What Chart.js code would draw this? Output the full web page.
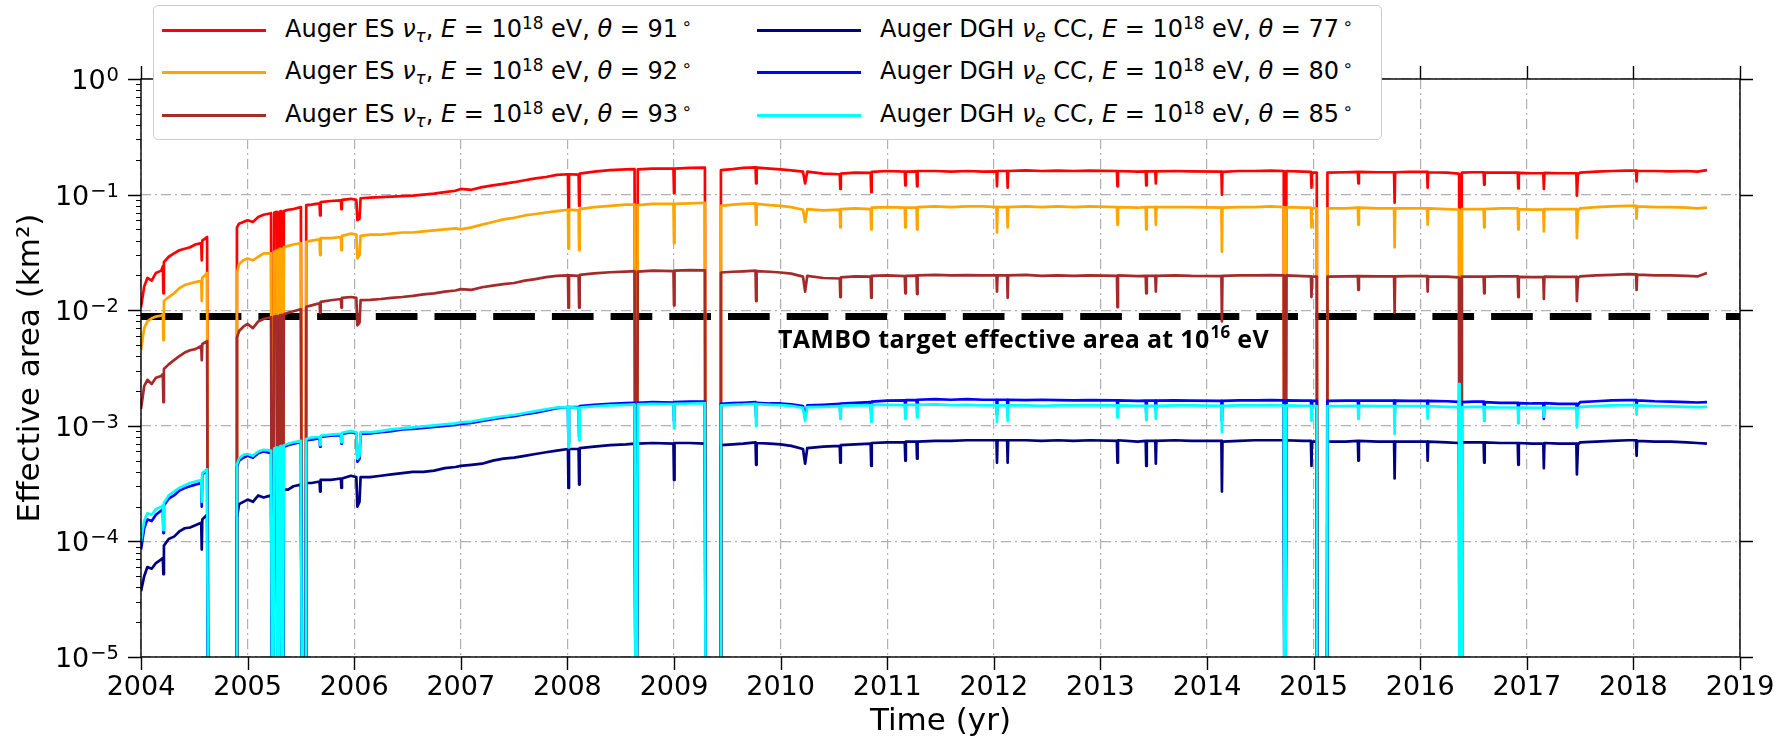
<!DOCTYPE html>
<html>
<head>
<meta charset="utf-8">
<script src="https://cdn.jsdelivr.net/npm/chart.js@4.4.1/dist/chart.umd.min.js"></script>
<style>
  html, body { margin: 0; padding: 0; background: #fff; }
  #wrap { position: relative; width: 1791px; height: 741px; overflow: hidden; }
  #chart { position: absolute; left: 0; top: 0; }
  #legendBox { position: absolute; left: 153px; top: 5px; width: 1227px; height: 133px;
    border: 1px solid #cccccc; border-radius: 5px; background: #fff; }
  .swatch { position: absolute; width: 104px; height: 3px; }
  .lbl { position: absolute; height: 40px; line-height: 40px; white-space: nowrap;
    font-family: 'DejaVu Sans'; font-size: 24px; color: #000; }
  .lbl sup, .lbl sub { font-size: 70%; line-height: 0; position: relative; vertical-align: baseline; }
  .lbl sup { top: -0.5em; }
  .lbl sub { top: 0.3em; }
</style>
</head>
<body>
<div id="wrap">
  <canvas id="chart" width="1791" height="741"></canvas>
  <div id="legendBox"></div>
</div>
<script>
// time axis (yr) shared by all six series
const years = [
  2004.00, 2004.03, 2004.06, 2004.10, 2004.14, 2004.19, 2004.205, 2004.21, 2004.215, 2004.26,
  2004.31, 2004.36, 2004.41, 2004.46, 2004.51, 2004.565, 2004.57, 2004.575, 2004.62, 2004.635,
  2004.895, 2004.90, 2004.92, 2004.96, 2005.00, 2005.05, 2005.10, 2005.15, 2005.22, 2005.235,
  2005.25, 2005.275, 2005.285, 2005.30, 2005.315, 2005.325, 2005.34, 2005.38, 2005.43, 2005.50,
  2005.515, 2005.545, 2005.55, 2005.60, 2005.675, 2005.68, 2005.685, 2005.78, 2005.875, 2005.88,
  2005.885, 2005.97, 2006.02, 2006.03, 2006.05, 2006.06, 2006.15, 2006.25, 2006.35, 2006.45,
  2006.55, 2006.65, 2006.75, 2006.85, 2006.95, 2007.00, 2007.10, 2007.20, 2007.30, 2007.40,
  2007.50, 2007.60, 2007.70, 2007.80, 2007.90, 2008.005, 2008.01, 2008.015, 2008.105, 2008.11,
  2008.115, 2008.25, 2008.40, 2008.55, 2008.63, 2008.645, 2008.66, 2008.80, 2008.995, 2009.00,
  2009.005, 2009.15, 2009.29, 2009.30, 2009.435, 2009.44, 2009.55, 2009.65, 2009.765, 2009.77,
  2009.775, 2009.90, 2010.00, 2010.10, 2010.21, 2010.23, 2010.25, 2010.40, 2010.555, 2010.56,
  2010.565, 2010.70, 2010.845, 2010.85, 2010.855, 2011.00, 2011.165, 2011.17, 2011.175, 2011.275,
  2011.28, 2011.285, 2011.45, 2011.60, 2011.75, 2011.90, 2012.025, 2012.03, 2012.035, 2012.125,
  2012.13, 2012.135, 2012.30, 2012.45, 2012.60, 2012.75, 2012.90, 2013.155, 2013.16, 2013.165,
  2013.35, 2013.425, 2013.43, 2013.435, 2013.515, 2013.52, 2013.525, 2013.70, 2013.85, 2014.135,
  2014.14, 2014.145, 2014.30, 2014.45, 2014.60, 2014.72, 2014.73, 2014.745, 2014.90, 2014.975,
  2014.98, 2014.985, 2015.03, 2015.035, 2015.125, 2015.13, 2015.30, 2015.415, 2015.42, 2015.425,
  2015.60, 2015.755, 2015.76, 2015.765, 2015.90, 2016.065, 2016.07, 2016.075, 2016.25, 2016.36, 2016.365,
  2016.37, 2016.385, 2016.39, 2016.50, 2016.595, 2016.60, 2016.605, 2016.75, 2016.915, 2016.92,
  2016.925, 2017.05, 2017.155, 2017.16, 2017.165, 2017.30, 2017.465, 2017.47, 2017.48, 2017.50,
  2017.65, 2017.80, 2017.95, 2018.025, 2018.03, 2018.035, 2018.20, 2018.35, 2018.50, 2018.60,
  2018.69
];

// effective area (km^2); 1e-7 marks detector outages (falls off the bottom of the plot)
const es91 = [
  .0106, .016, .019, .018, .021, .022, .024, .014, .026, .029,
  .031, .033, .034, .035, .037, .038, .027, .040, .043, 1e-7,
  1e-7, .052, .056, .058, .060, .058, .064, .067, .069, 1e-7,
  .070, .071, 1e-7, .071, .072, 1e-7, .072, .074, .075, .078,
  1e-7, 1e-7, .081, .082, .084, .066, .086, .088, .089, .075,
  .090, .092, .090, .060, .062, .093, .094, .095, .096, .097,
  .098, .100, .102, .105, .108, .112, .110, .116, .120, .124,
  .128, .133, .138, .142, .148, .150, .074, .150, .149, .080,
  .152, .158, .163, .165, .166, 1e-7, .165, .168, .168, .103,
  .168, .170, .171, 1e-7, 1e-7, .163, .166, .170, .172, .125,
  .171, .168, .165, .162, .158, .125, .158, .152, .150, .112,
  .152, .155, .154, .105, .157, .160, .158, .120, .158, .159,
  .118, .160, .160, .158, .160, .158, .159, .118, .160, .160,
  .115, .160, .162, .160, .161, .160, .161, .160, .118, .160,
  .158, .159, .120, .159, .159, .125, .159, .160, .159, .158,
  .100, .157, .160, .160, .161, .160, 1e-7, .160, .158, .157,
  .115, .155, .155, 1e-7, 1e-7, .155, .156, .157, .125, .157,
  .156, .156, .085, .156, .157, .157, .115, .156, .155, .152, .150,
  1e-7, 1e-7, .155, .156, .156, .122, .155, .155, .155, .113,
  .154, .153, .153, .112, .154, .153, .153, .098, .150, .155,
  .158, .160, .161, .161, .130, .160, .160, .159, .160, .158,
  .163
];
const es92 = [
  .0045, .0070, .0080, .0085, .0088, .0090, .0092, .0055, .0120, .0130,
  .0140, .0155, .0165, .0170, .0175, .0180, .0120, .0190, .0210, 1e-7,
  1e-7, .021, .025, .027, .028, .027, .029, .031, .031, 1e-7,
  .032, .033, 1e-7, .034, .034, 1e-7, .035, .036, .037, .038,
  1e-7, 1e-7, .039, .040, .041, .030, .042, .042, .043, .033,
  .044, .046, .045, .028, .030, .044, .045, .045, .046, .047,
  .047, .048, .049, .050, .051, .050, .052, .055, .058, .061,
  .063, .066, .068, .070, .072, .074, .034, .074, .073, .033,
  .075, .078, .080, .082, .082, 1e-7, .081, .083, .083, .038,
  .083, .084, .085, 1e-7, 1e-7, .080, .082, .083, .084, .055,
  .083, .081, .080, .078, .074, .058, .075, .073, .074, .052,
  .075, .076, .075, .050, .077, .078, .077, .052, .077, .077,
  .050, .078, .079, .078, .079, .079, .078, .047, .078, .078,
  .052, .078, .079, .078, .079, .078, .079, .078, .055, .078,
  .077, .078, .050, .078, .078, .055, .078, .078, .078, .077,
  .032, .077, .078, .078, .079, .078, 1e-7, .078, .077, .077,
  .052, .076, .076, 1e-7, 1e-7, .076, .076, .077, .055, .077,
  .076, .076, .035, .076, .076, .076, .055, .076, .075, .074, .072,
  1e-7, 1e-7, .075, .075, .075, .052, .075, .076, .076, .050,
  .075, .074, .074, .048, .075, .075, .075, .042, .072, .076,
  .078, .079, .080, .080, .062, .079, .078, .078, .077, .076,
  .077
];
const es93 = [
  .0014, .0022, .0025, .0023, .0026, .0027, .0028, .0016, .0031, .0034,
  .0037, .0040, .0043, .0045, .0046, .0049, .0037, .0051, .0054, 1e-7,
  1e-7, .0058, .0066, .0072, .0076, .0070, .0080, .0084, .0087, 1e-7,
  .0088, .0089, 1e-7, .0090, .0091, 1e-7, .0092, .0095, .0098, .0102,
  1e-7, 1e-7, .0107, .0110, .0115, .0095, .0118, .0122, .0125, .0105,
  .0128, .0130, .0128, .0074, .0078, .0122, .0123, .0125, .0128, .0130,
  .0133, .0137, .0140, .0145, .0148, .0152, .0150, .0158, .0163, .0168,
  .0172, .0180, .0186, .0193, .0198, .0200, .0105, .0200, .0198, .0105,
  .0202, .0208, .0213, .0216, .0218, 1e-7, .0216, .0220, .0218, .0110,
  .0220, .0222, .0221, 1e-7, 1e-7, .0212, .0215, .0217, .0220, .0120,
  .0218, .0215, .0212, .0207, .0195, .0145, .0198, .0190, .0188, .0130,
  .0192, .0196, .0195, .0128, .0198, .0200, .0197, .0140, .0198, .0199,
  .0138, .0200, .0202, .0200, .0201, .0200, .0200, .0145, .0200, .0200,
  .0128, .0200, .0202, .0198, .0200, .0198, .0200, .0198, .0106, .0200,
  .0197, .0198, .0140, .0198, .0198, .0145, .0198, .0200, .0198, .0197,
  .0080, .0198, .0200, .0200, .0201, .0200, 1e-7, .0200, .0197, .0196,
  .0130, .0195, .0195, 1e-7, 1e-7, .0195, .0196, .0197, .0150, .0197,
  .0196, .0196, .0095, .0196, .0197, .0197, .0145, .0196, .0195, .0192, .0188,
  1e-7, 1e-7, .0195, .0195, .0195, .0140, .0195, .0196, .0196, .0130,
  .0194, .0193, .0193, .0125, .0195, .0194, .0194, .0120, .0190, .0196,
  .0200, .0202, .0205, .0204, .0150, .0203, .0200, .0200, .0198, .0196,
  .0210
];
const dgh77 = [
  .000037, .000050, .000060, .000058, .000065, .000070, .000072, .000052, .000092, .000105,
  .000110, .000122, .000130, .000132, .000138, .000145, .000085, .000155, .000170, 1e-7,
  1e-7, .00016, .00021, .00022, .00023, .00022, .00025, .00024, .00025, 1e-7,
  .00026, .00027, 1e-7, .00027, .00027, 1e-7, .00028, .00028, .00030, .00031,
  1e-7, 1e-7, .00032, .00032, .00033, .00027, .00034, .00034, .00035, .00029,
  .00035, .00037, .00036, .00020, .00022, .00036, .00036, .00037, .00038, .00039,
  .00040, .00040, .00041, .00043, .00044, .00045, .00046, .00047, .00050, .00052,
  .00053, .00055, .00057, .00059, .00061, .00063, .00029, .00063, .00063, .00031,
  .00064, .00066, .00068, .00069, .00070, 1e-7, .00070, .00071, .00070, .00034,
  .00071, .00071, .00070, 1e-7, 1e-7, .00068, .00069, .00070, .00072, .00046,
  .00071, .00070, .00069, .00067, .00063, .00047, .00064, .00066, .00067, .00048,
  .00068, .00069, .00070, .00045, .00071, .00072, .00072, .00050, .00073, .00073,
  .00052, .00073, .00074, .00074, .00075, .00075, .00075, .00048, .00075, .00075,
  .00048, .00075, .00075, .00074, .00075, .00074, .00075, .00074, .00048, .00075,
  .00073, .00074, .00045, .00074, .00074, .00047, .00074, .00075, .00074, .00074,
  .00027, .00073, .00074, .00075, .00075, .00075, 1e-7, .00075, .00074, .00074,
  .00045, .00073, .00073, 1e-7, 1e-7, .00073, .00073, .00074, .00050, .00074,
  .00073, .00073, .00035, .00073, .00073, .00073, .00050, .00073, .00072, .00071, .00070,
  1e-7, 1e-7, .00072, .00072, .00072, .00048, .00072, .00071, .00071, .00046,
  .00071, .00070, .00070, .00043, .00071, .00070, .00070, .00038, .00069, .00072,
  .00073, .00074, .00075, .00075, .00055, .00074, .00073, .00073, .00072, .00071,
  .00070
];
const dgh80 = [
  .000085, .000130, .000155, .000150, .000170, .000185, .000190, .000118, .000205, .000235,
  .000250, .000275, .000290, .000300, .000310, .000320, .000200, .000380, .000410, 1e-7,
  1e-7, .00044, .00050, .00053, .00055, .00053, .00058, .00060, .00058, 1e-7,
  .00062, .00064, 1e-7, .00065, .00065, 1e-7, .00066, .00068, .00070, .00072,
  1e-7, 1e-7, .00075, .00076, .00078, .00066, .00080, .00082, .00083, .00070,
  .00085, .00088, .00086, .00049, .00052, .00085, .00086, .00088, .00090, .00093,
  .00094, .00096, .00098, .00100, .00102, .00104, .00106, .00110, .00114, .00118,
  .00121, .00126, .00130, .00136, .00142, .00145, .00070, .00145, .00146, .00080,
  .00148, .00152, .00155, .00157, .00158, 1e-7, .00158, .00160, .00159, .00110,
  .00160, .00162, .00162, 1e-7, 1e-7, .00155, .00157, .00158, .00160, .00120,
  .00158, .00156, .00156, .00153, .00148, .00118, .00150, .00152, .00155, .00130,
  .00156, .00158, .00160, .00130, .00162, .00165, .00166, .00140, .00167, .00167,
  .00142, .00168, .00170, .00168, .00170, .00168, .00168, .00125, .00168, .00168,
  .00125, .00168, .00167, .00168, .00167, .00166, .00167, .00166, .00140, .00166,
  .00164, .00165, .00130, .00165, .00165, .00135, .00165, .00166, .00165, .00164,
  .00110, .00164, .00166, .00166, .00167, .00166, 1e-7, .00166, .00165, .00165,
  .00130, .00164, .00164, 1e-7, 1e-7, .00164, .00165, .00165, .00140, .00165,
  .00165, .00165, .00115, .00165, .00164, .00164, .00140, .00164, .00163, .00161, .00160,
  1e-7, 1e-7, .00160, .00162, .00162, .00135, .00160, .00158, .00158, .00135,
  .00157, .00156, .00156, .00115, .00157, .00155, .00155, .00135, .00152, .00160,
  .00163, .00166, .00167, .00167, .00150, .00166, .00163, .00162, .00160, .00159,
  .00160
];
const dgh85 = [
  .000100, .000150, .000175, .000170, .000190, .000200, .000205, .000125, .000215, .000250,
  .000270, .000290, .000305, .000320, .000330, .000340, .000220, .000390, .000420, 1e-7,
  1e-7, .00046, .00052, .00056, .00057, .00055, .00060, .00062, .00061, 1e-7,
  .00064, .00065, 1e-7, .00066, .00067, 1e-7, .00068, .00070, .00072, .00074,
  1e-7, 1e-7, .00077, .00079, .00080, .00068, .00082, .00084, .00085, .00072,
  .00087, .00090, .00088, .00052, .00055, .00088, .00088, .00090, .00093, .00095,
  .00097, .00099, .00101, .00103, .00105, .00107, .00109, .00113, .00117, .00121,
  .00124, .00129, .00134, .00139, .00144, .00145, .00065, .00145, .00143, .00075,
  .00144, .00147, .00150, .00152, .00153, 1e-7, .00153, .00155, .00154, .00095,
  .00155, .00156, .00157, 1e-7, 1e-7, .00150, .00152, .00153, .00155, .00100,
  .00154, .00152, .00151, .00149, .00143, .00110, .00145, .00146, .00148, .00115,
  .00149, .00150, .00150, .00108, .00152, .00152, .00151, .00115, .00152, .00152,
  .00118, .00152, .00153, .00151, .00152, .00150, .00150, .00108, .00150, .00150,
  .00110, .00150, .00150, .00149, .00150, .00150, .00150, .00150, .00118, .00150,
  .00149, .00149, .00112, .00149, .00149, .00115, .00149, .00150, .00150, .00149,
  .00088, .00149, .00150, .00150, .00151, .00150, 1e-7, .00150, .00149, .00149,
  .00110, .00148, .00148, 1e-7, 1e-7, .00148, .00148, .00149, .00115, .00149,
  .00148, .00148, .00085, .00148, .00148, .00148, .00115, .00148, .00146, .00145, .00230,
  1e-7, 1e-7, .00145, .00146, .00146, .00110, .00145, .00144, .00144, .00105,
  .00144, .00143, .00143, .00120, .00144, .00142, .00142, .00097, .00140, .00146,
  .00148, .00150, .00151, .00151, .00125, .00150, .00148, .00147, .00146, .00145,
  .00146
];

const detectors = ['ES', 'ES', 'ES', 'DGH', 'DGH', 'DGH'];
const thetas = [91, 92, 93, 77, 80, 85];
const seriesColors = ['#ff0000', '#ffa500', '#a52a2a', '#000080', '#0000ff', '#00ffff'];
const seriesValues = [es91, es92, es93, dgh77, dgh80, dgh85];

const tamboTarget = 0.0088;
const yearTicks = [2004, 2005, 2006, 2007, 2008, 2009, 2010, 2011, 2012, 2013, 2014, 2015, 2016, 2017, 2018, 2019];
const decadeTicks = [1e-5, 1e-4, 1e-3, 1e-2, 1e-1, 1];
const decadeExponents = ['\u22125', '\u22124', '\u22123', '\u22122', '\u22121', '0'];

const FONT = "'DejaVu Sans'";

function labelHtml(i) {
  const nu = detectors[i] === 'ES'
    ? '<i>ν</i><sub><i>τ</i></sub>'
    : '<i>ν</i><sub><i>e</i></sub> CC';
  return 'Auger ' + detectors[i] + ' ' + nu + ', <i>E</i> = 10<sup>18</sup> eV, <i>θ</i> = ' +
    thetas[i] + '<sup>&thinsp;∘</sup>';
}

// frame, outward tick marks, y tick labels with exponents, TAMBO note
const axesDecor = {
  id: 'axesDecor',
  afterDatasetsDraw(chart) {
    const { ctx, chartArea: a, scales: { x, y } } = chart;
    ctx.save();

    // TAMBO annotation, stretched to the width it has in the original
    const part1 = 'TAMBO target effective area at 10', sup = '16', part2 = ' eV';
    const big = "bold 25px 'Open Sans'", small = "bold 17px 'Open Sans'";
    ctx.fillStyle = '#000';
    ctx.textAlign = 'left';
    ctx.textBaseline = 'alphabetic';
    ctx.font = big;
    let natural = ctx.measureText(part1).width + ctx.measureText(part2).width;
    ctx.font = small;
    natural += ctx.measureText(sup).width;
    const nChars = (part1 + sup + part2).length;
    const spacing = Math.max(0, (490 - natural) / nChars);
    ctx.letterSpacing = spacing.toFixed(2) + 'px';
    let tx = 778;
    const ty = 348;
    ctx.font = big;
    ctx.fillText(part1, tx, ty);
    tx += ctx.measureText(part1).width + 1;
    ctx.font = small;
    ctx.fillText(sup, tx, ty - 10);
    tx += ctx.measureText(sup).width;
    ctx.font = big;
    ctx.fillText(part2, tx, ty);
    ctx.letterSpacing = '0px';

    // frame
    ctx.strokeStyle = '#000';
    ctx.lineWidth = 1.4;
    ctx.strokeRect(a.left, a.top, a.right - a.left, a.bottom - a.top);

    // major ticks
    ctx.beginPath();
    yearTicks.forEach(v => {
      const px = Math.round(x.getPixelForValue(v)) + 0.5;
      ctx.moveTo(px, a.bottom); ctx.lineTo(px, a.bottom + 13);
      ctx.moveTo(px, a.top); ctx.lineTo(px, a.top - 13);
    });
    decadeTicks.forEach(v => {
      const py = Math.round(y.getPixelForValue(v)) + 0.5;
      ctx.moveTo(a.left - 13, py); ctx.lineTo(a.left, py);
      ctx.moveTo(a.right, py); ctx.lineTo(a.right + 13, py);
    });
    ctx.stroke();

    // minor ticks (left only)
    ctx.lineWidth = 1;
    ctx.beginPath();
    decadeTicks.slice(0, -1).forEach(d => {
      for (let m = 2; m <= 9; m++) {
        const py = Math.round(y.getPixelForValue(m * d)) + 0.5;
        ctx.moveTo(a.left - 5, py); ctx.lineTo(a.left, py);
      }
    });
    ctx.stroke();

    // y tick labels: 10^n
    ctx.textAlign = 'right';
    decadeTicks.forEach((v, i) => {
      const py = y.getPixelForValue(v);
      ctx.font = '19.5px ' + FONT;
      const ew = ctx.measureText(decadeExponents[i]).width;
      ctx.fillText(decadeExponents[i], 119, py + 2);
      ctx.font = '27px ' + FONT;
      ctx.fillText('10', 119 - ew - 1, py + 10);
    });
    ctx.restore();
  }
};

const datasets = seriesValues.map((vals, i) => ({
  label: detectors[i] + ' ' + thetas[i],
  data: years.map((t, k) => ({ x: t, y: vals[k] })),
  borderColor: seriesColors[i],
  backgroundColor: seriesColors[i],
  borderWidth: 2.7,
  pointRadius: 0,
  borderJoinStyle: 'round',
  fill: false,
  order: 6 - i
}));

datasets.push({
  label: 'TAMBO target',
  data: [{ x: 2004, y: tamboTarget }, { x: 2019, y: tamboTarget }],
  borderColor: '#000',
  borderWidth: 7,
  borderDash: [41.7, 17],
  borderCapStyle: 'butt',
  pointRadius: 0,
  fill: false,
  order: 10
});

new Chart(document.getElementById('chart'), {
  type: 'line',
  data: { datasets },
  options: {
    responsive: false,
    animation: false,
    parsing: false,
    layout: { padding: { top: 79, right: 51, left: 0, bottom: 0 } },
    plugins: { legend: { display: false }, tooltip: { enabled: false } },
    scales: {
      x: {
        type: 'linear',
        min: 2004,
        max: 2019,
        afterBuildTicks: s => { s.ticks = yearTicks.map(v => ({ value: v })); },
        afterFit: s => { s.height = 84; },
        grid: { color: '#b0b0b0', lineWidth: 1.2, drawTicks: false },
        border: { display: false, dash: [10, 4, 2, 4] },
        ticks: {
          autoSkip: false, maxRotation: 0, padding: 15, color: '#000',
          font: { family: 'DejaVu Sans', size: 27 },
          callback: v => String(v)
        },
        title: {
          display: true, text: 'Time (yr)', color: '#000',
          font: { family: 'DejaVu Sans', size: 31 }, padding: { top: 0, bottom: 0 }
        }
      },
      y: {
        type: 'logarithmic',
        min: 1e-5,
        max: 1,
        afterBuildTicks: s => { s.ticks = decadeTicks.map(v => ({ value: v })); },
        afterFit: s => { s.width = 141; },
        grid: { color: '#b0b0b0', lineWidth: 1.2, drawTicks: false },
        border: { display: false, dash: [10, 4, 2, 4] },
        ticks: { display: false },
        title: {
          display: true, text: 'Effective area (km²)', color: '#000',
          font: { family: 'DejaVu Sans', size: 31 }, padding: { top: 12, bottom: 0 }
        }
      }
    }
  },
  plugins: [axesDecor]
});

// legend (two columns of three)
const wrap = document.getElementById('wrap');
const swatchX = [162, 757], textX = [285, 880], rowY = [30, 72, 115];
seriesColors.forEach((c, i) => {
  const col = Math.floor(i / 3), row = i % 3;
  const sw = document.createElement('div');
  sw.className = 'swatch';
  sw.style.left = swatchX[col] + 'px';
  sw.style.top = (rowY[row] - 1.5) + 'px';
  sw.style.background = c;
  wrap.appendChild(sw);
  const lb = document.createElement('div');
  lb.className = 'lbl';
  lb.style.left = textX[col] + 'px';
  lb.style.top = (rowY[row] - 21) + 'px';
  lb.innerHTML = labelHtml(i);
  wrap.appendChild(lb);
});
</script>
</body>
</html>
